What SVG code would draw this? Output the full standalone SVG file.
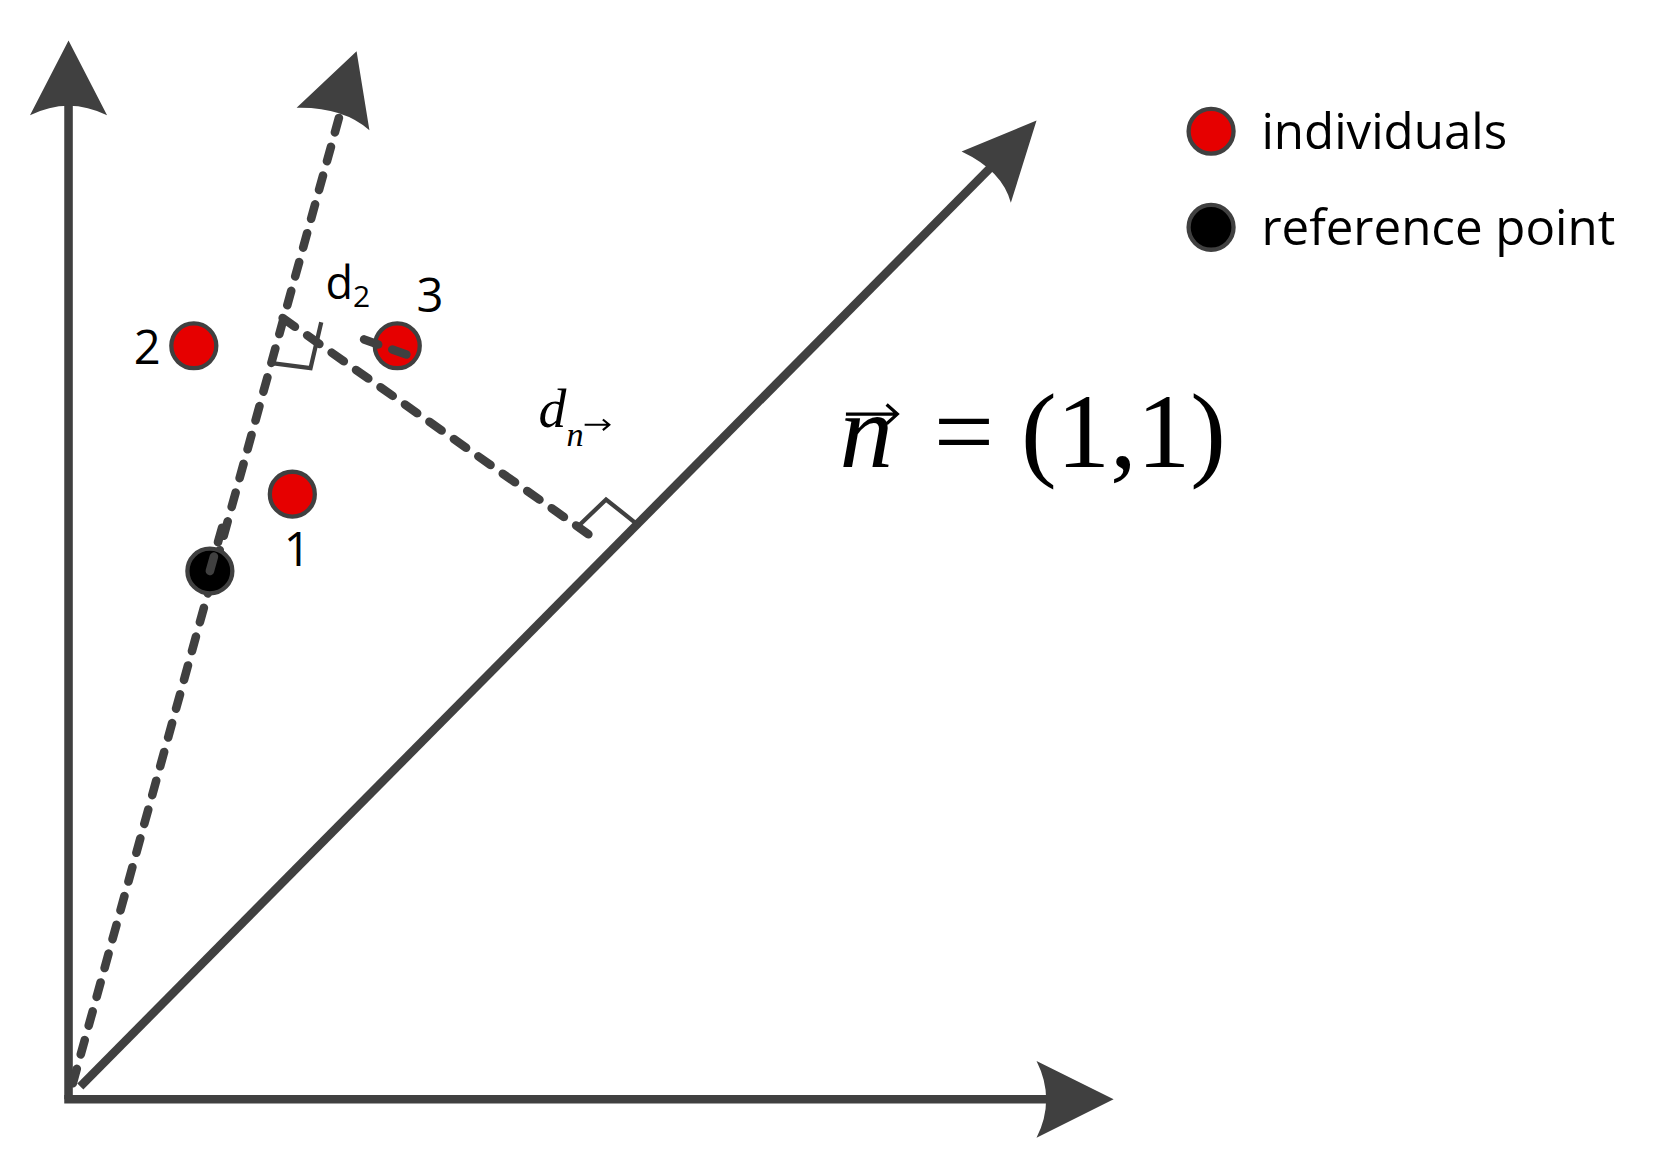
<svg xmlns="http://www.w3.org/2000/svg" width="1679" height="1174" viewBox="0 0 1679 1174">
<style>
.ax{stroke:#404040;stroke-width:8;fill:none}
.ds{stroke:#404040;stroke-width:8;fill:none;stroke-dasharray:14 14;stroke-linecap:round}
.ra{stroke:#404040;stroke-width:4;fill:none}
.ah{fill:#404040}
.red{fill:#e60000;stroke:#404040;stroke-width:4}
.blk{fill:#000;stroke:#404040;stroke-width:4}
.t{font-family:"Open Sans","Liberation Sans",sans-serif;fill:#000}
.m{font-family:"Liberation Serif","DejaVu Serif",serif;font-style:italic;fill:#000}
</style>
<rect width="1679" height="1174" fill="#fff"/>
<g transform="scale(1.0708,1.0673)">
<g id="connectors">
<line class="ax" x1="64" y1="1030" x2="64" y2="95"/>
<path class="ah" d="M64 38 L100 108 Q64 90 28 108 Z"/>
<line class="ax" x1="60" y1="1030" x2="985" y2="1030"/>
<path class="ah" d="M1040 1030 L968 1066 Q986 1030 968 994 Z"/>
<line class="ax" x1="75" y1="1018" x2="930" y2="152"/>
<path class="ah" d="M968 113 L944 190 Q936 160 898 142 Z"/>
<line class="ds" x1="68" y1="1015" x2="318" y2="105"/>
<path class="ah" d="M333 48 L345 122 Q320 100 277 101 Z"/>
<line class="ds" x1="264" y1="298" x2="560" y2="508"/>
<path class="ra" d="M252 340 L290 345 L300 302"/>
<path class="ra" d="M538 495 L566 468 L596 492"/>
</g>
<g id="p2"><circle class="red" cx="181" cy="324" r="21"/><text class="t" x="125" y="341" font-size="44">2</text></g>
<g id="p3"><circle class="red" cx="371" cy="324" r="21"/><text class="t" x="389" y="292" font-size="44">3</text></g>
<g id="p1"><circle class="red" cx="273" cy="463" r="21"/><text class="t" x="265" y="530" font-size="44">1</text></g>
<g id="ref"><circle class="blk" cx="196" cy="535" r="21"/></g>
<line class="ds" x1="196" y1="535" x2="210" y2="485" style="stroke-dasharray:14 14"/>
<line class="ds" x1="340" y1="318" x2="390" y2="336"/>
<g id="labels">
<text class="t" x="304" y="280" font-size="42">d<tspan font-size="28" dy="8">2</tspan></text>
<text class="m" x="503" y="400" font-size="52">d<tspan font-size="32" dy="18">n</tspan></text>
<path class="ra" stroke-width="2" d="M546 398 L568 398 M563 393 L569 398 L563 403" style="stroke:#000;stroke-width:2"/>
<text class="m" x="784" y="438" font-size="100">n</text>
<path d="M790 388 L836 388 M828 379 L838 388 L828 397" style="stroke:#000;stroke-width:3;fill:none"/>
<text font-family="Liberation Serif,serif" x="872" y="438" font-size="100">= (1,1)</text>
</g>
<g id="legend">
<circle class="red" cx="1131" cy="123" r="21"/>
<text class="t" x="1178" y="140" font-size="46">individuals</text>
<circle class="blk" cx="1131" cy="213" r="21"/>
<text class="t" x="1178" y="230" font-size="46">reference point</text>
</g>
</g>
</svg>
